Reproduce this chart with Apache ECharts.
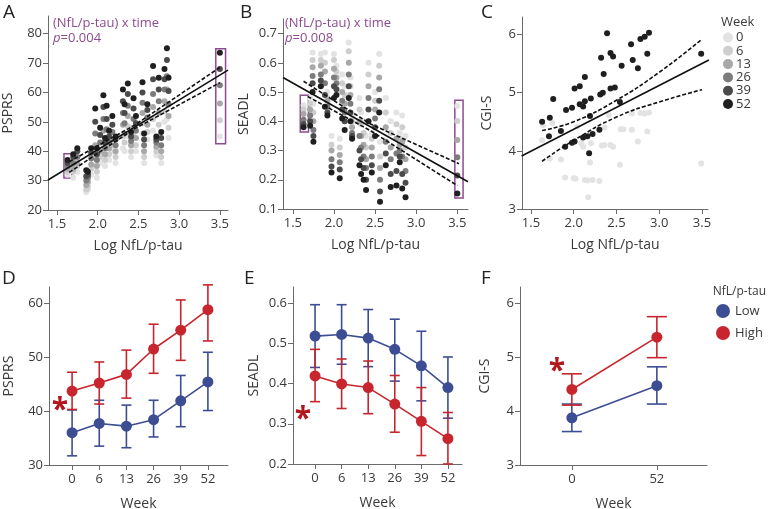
<!DOCTYPE html>
<html><head><meta charset="utf-8">
<script src="https://cdn.jsdelivr.net/npm/echarts@6/dist/echarts.min.js"></script>
<style>html,body{margin:0;padding:0;background:#fff}#c{width:768px;height:509px}</style>
</head><body><div id="c"></div>
<script>
// ---------- DATA ----------
const weeks = [0, 6, 13, 26, 39, 52];
const weekNames = ['0', '6', '13', '26', '39', '52'];

// Panel A: PSPRS vs Log NfL/p-tau
const aX = [1.63,1.70,1.75,1.86,1.88,1.92,1.97,1.99,2.03,2.07,2.09,2.11,2.14,2.18,2.22,2.31,2.33,2.37,2.41,2.44,2.47,2.55,2.57,2.61,2.68,2.72,2.75,2.78,2.82,2.85,2.87,3.50];
const aW0  = [32,31,33,26,27,32,35,31,36,40,35,38,37,40,36,41,40,45,38,42,40,46,36,44,47,38.5,45,36,50,51,44.5,45];
const aW6  = [33,33,35,27,28,34,38,33,38,43,37,41,39,42,38,45,43,48.5,40,45,42,49.5,38,46.5,51,40,49,38,53.5,56,48,50.5];
const aW13 = [34,34,36,28.5,29.5,35.5,42,35,40,47,39,44,41,44,40,49,46,52,42,48,44.5,53,40,49,55,41.5,53,40,57,61,52,56.2];
const aW26 = [35,36,38,30,31,37.5,46,37,43,51,41,47.5,43,46.5,42,53,49.5,55.5,43.5,51,47,56.5,42,51.5,59.5,43,57,42,61,65.5,56,62.4];
const aW39 = [36,38,40,31.5,32,39.5,50,39,45.5,55,43,51,45,49,44,57,53,59.5,45,54.5,49.5,60,44,54,64.5,44,61,44.5,64.5,71,60.5,68];
const aW52 = [37,39,41,33.5,33,41,54.5,41,48,59,44.5,55.5,47,52,45,61,56,63,46.5,58,52,63.5,46,56,69,45,65,46.5,68,75,65,73.5];
const aFit = [[1.39,30.2],[3.6,67.6]];
const aUpper = [[1.65,36.4],[2.45,48.8],[3.5,68.5]];
const aLower = [[1.65,32.8],[2.45,47.6],[3.5,63.3]];
const aBoxes = [[[1.586,39.1],[1.684,30.9]], [[3.45,74.9],[3.57,42.5]]];

// Panel B: SEADL vs Log NfL/p-tau
const bX = [1.63,1.71,1.74,1.75,1.84,1.89,1.92,1.97,2.00,2.03,2.07,2.10,2.13,2.18,2.20,2.22,2.31,2.33,2.36,2.39,2.42,2.46,2.50,2.55,2.56,2.63,2.69,2.76,2.80,2.83,2.87,3.50];
const bW0  = [0.455,0.48,0.635,0.46,0.63,0.635,0.50,0.35,0.63,0.59,0.34,0.56,0.52,0.67,0.55,0.42,0.48,0.43,0.40,0.35,0.60,0.36,0.50,0.63,0.33,0.48,0.40,0.43,0.36,0.42,0.35,0.452];
const bW6  = [0.44,0.46,0.61,0.43,0.61,0.60,0.48,0.32,0.61,0.57,0.31,0.53,0.49,0.64,0.52,0.40,0.44,0.39,0.36,0.31,0.56,0.34,0.47,0.59,0.28,0.43,0.36,0.39,0.34,0.38,0.31,0.401];
const bW13 = [0.425,0.44,0.585,0.40,0.59,0.57,0.47,0.30,0.58,0.55,0.285,0.50,0.46,0.60,0.49,0.38,0.40,0.35,0.32,0.27,0.52,0.31,0.44,0.55,0.24,0.38,0.31,0.34,0.32,0.33,0.27,0.336];
const bW26 = [0.405,0.42,0.555,0.37,0.56,0.53,0.45,0.27,0.55,0.53,0.26,0.47,0.43,0.56,0.46,0.36,0.35,0.31,0.28,0.24,0.48,0.28,0.41,0.51,0.20,0.33,0.27,0.29,0.30,0.28,0.23,0.277];
const bW39 = [0.39,0.40,0.53,0.35,0.54,0.49,0.43,0.245,0.52,0.51,0.235,0.44,0.40,0.52,0.43,0.35,0.30,0.27,0.24,0.20,0.44,0.25,0.38,0.47,0.16,0.29,0.22,0.23,0.28,0.22,0.19,0.215];
const bW52 = [0.38,0.385,0.50,0.33,0.52,0.45,0.42,0.225,0.48,0.49,0.205,0.41,0.37,0.48,0.40,0.34,0.25,0.22,0.20,0.165,0.40,0.225,0.35,0.43,0.125,0.25,0.175,0.18,0.26,0.17,0.14,0.153];
const bFit = [[1.38,0.55],[3.63,0.193]];
const bUpper = [[1.63,0.537],[2.45,0.39],[3.52,0.255]];
const bLower = [[1.68,0.485],[2.45,0.367],[3.5,0.18]];
const bBoxes = [[[1.59,0.489],[1.69,0.363]], [[3.47,0.472],[3.57,0.138]]];

// Panel C: CGI-S vs Log NfL/p-tau (weeks 0 and 52)
const cX0 = [1.63,1.64,1.72,1.75,1.85,1.90,2.00,2.02,2.04,2.09,2.11,2.13,2.16,2.17,2.19,2.20,2.22,2.30,2.33,2.36,2.36,2.41,2.43,2.46,2.54,2.55,2.58,2.68,2.68,2.75,2.78,2.83,2.86,2.88,3.49];
const cY0 = [4.18,4.44,3.87,4.48,3.85,3.54,3.53,3.52,4.42,4.13,4.07,3.50,3.49,3.20,3.80,4.13,3.50,3.48,4.09,4.10,4.40,4.61,4.10,4.07,3.76,4.37,4.37,4.36,4.64,4.16,4.65,4.64,4.33,4.66,3.78];
const cX52 = [1.63,1.72,1.71,1.76,1.85,1.90,1.91,1.98,1.98,2.01,2.01,2.07,2.07,2.11,2.13,2.13,2.11,2.16,2.18,2.19,2.20,2.22,2.30,2.31,2.32,2.35,2.34,2.39,2.43,2.43,2.46,2.48,2.54,2.56,2.67,2.69,2.75,2.78,2.83,2.86,2.88,3.49];
const cY52 = [4.50,4.57,4.25,4.89,4.34,4.07,4.70,4.74,4.14,4.16,5.07,5.11,4.80,4.76,4.85,5.27,4.23,4.25,3.96,4.60,4.90,4.29,4.36,4.97,5.60,5.32,5.00,6.02,5.68,5.07,5.62,5.09,4.84,5.46,5.83,5.56,5.42,5.92,5.96,5.67,6.03,5.67];
const cFit = [[1.39,3.91],[3.58,5.56]];
const cUpper = [[1.63,4.35],[2.0,4.5],[2.5,4.87],[3.0,5.35],[3.5,5.92]];
const cLower = [[1.63,3.82],[2.0,4.18],[2.5,4.58],[3.0,4.84],[3.5,5.05]];

// Panel D: PSPRS by week (Low / High NfL/p-tau)
const dLowMean  = [36.0,37.7,37.2,38.4,41.9,45.4];
const dLowLo    = [31.7,33.5,33.2,35.2,37.1,40.1];
const dLowHi    = [40.2,42.0,41.1,42.0,46.6,50.9];
const dHighMean = [43.7,45.2,46.8,51.5,55.0,58.8];
const dHighLo   = [40.3,41.3,42.4,47.0,49.4,53.0];
const dHighHi   = [47.2,49.1,51.3,56.1,60.6,63.4];
// Panel E: SEADL by week
const eLowMean  = [0.518,0.522,0.513,0.485,0.444,0.390];
const eLowLo    = [0.440,0.448,0.442,0.406,0.357,0.314];
const eLowHi    = [0.596,0.596,0.584,0.560,0.530,0.466];
const eHighMean = [0.419,0.399,0.390,0.349,0.306,0.263];
const eHighLo   = [0.355,0.338,0.325,0.279,0.221,0.200];
const eHighHi   = [0.485,0.461,0.456,0.420,0.390,0.328];
// Panel F: CGI-S at week 0 and 52
const fWeeks = [0, 52];
const fLowMean  = [3.875,4.47];
const fLowLo    = [3.62,4.13];
const fLowHi    = [4.13,4.82];
const fHighMean = [4.40,5.37];
const fHighLo   = [4.11,4.99];
const fHighHi   = [4.69,5.75];

// ---------- STYLE ----------
const FONT = 'Open Sans';
const weekColors = ['#e3e3e3','#cecece','#a8a8a8','#7c7c7c','#4b4b4b','#1f1f1f'];
const LOW = '#3d4d93', HIGH = '#c7262e', PURPLE = '#8d4b90', AX = '#6a6a6a', TXT = '#3a3a3a';

function xyAxis(gi, min, max, ticks, fmt, name, gap, vertical) {
  return {
    type: 'value', gridIndex: gi, min, max,
    name, nameLocation: 'middle', nameGap: gap,
    nameTextStyle: { fontFamily: FONT, fontSize: 14, color: TXT },
    axisLine: { show: true, onZero: false, lineStyle: { color: AX, width: 1 } },
    axisTick: { show: true, length: 5, lineStyle: { color: AX }, customValues: ticks },
    axisLabel: { fontFamily: FONT, fontSize: 13, color: TXT, margin: vertical ? 6 : 8, customValues: ticks, formatter: fmt },
    splitLine: { show: false }
  };
}
const f1 = v => v.toFixed(1);
const f0 = v => String(Math.round(v));

const grids = [
  { left: 48, top: 16, width: 180, height: 194 },
  { left: 283, top: 19, width: 185, height: 190 },
  { left: 522, top: 17, width: 186, height: 192 },
  { left: 49, top: 287, width: 179, height: 178 },
  { left: 293, top: 287, width: 169, height: 177 },
  { left: 520, top: 287, width: 187, height: 178 }
].map(g => Object.assign({ outerBoundsMode: 'none', containLabel: false }, g));

const xTicksLog = [1.5, 2.0, 2.5, 3.0, 3.5];
const xAxes = [
  xyAxis(0, 1.39, 3.6, xTicksLog, f1, 'Log NfL/p-tau', 29),
  xyAxis(1, 1.38, 3.63, xTicksLog, f1, 'Log NfL/p-tau', 29),
  xyAxis(2, 1.395, 3.57, xTicksLog, f1, 'Log NfL/p-tau', 29),
  xyAxis(3, -0.85, 5.74, [0,1,2,3,4,5], v => String(weeks[Math.round(v)]), 'Week', 32),
  xyAxis(4, -0.83, 5.53, [0,1,2,3,4,5], v => String(weeks[Math.round(v)]), 'Week', 32),
  xyAxis(5, -0.61, 1.59, [0,1], v => String(fWeeks[Math.round(v)]), 'Week', 32)
];
const yAxes = [
  xyAxis(0, 20, 86, [20,30,40,50,60,70,80], f0, 'PSPRS', 33, true),
  xyAxis(1, 0.1, 0.75, [0.1,0.2,0.3,0.4,0.5,0.6,0.7], f1, 'SEADL', 32, true),
  xyAxis(2, 3, 6.3, [3,4,5,6], f0, 'CGI-S', 28, true),
  xyAxis(3, 30, 63, [30,40,50,60], f0, 'PSPRS', 33, true),
  xyAxis(4, 0.2, 0.64, [0.2,0.3,0.4,0.5,0.6], f1, 'SEADL', 32, true),
  xyAxis(5, 3, 6.3, [3,4,5,6], f0, 'CGI-S', 28, true)
];

const series = [];
function scatter(name, gi, xs, ys, color) {
  series.push({
    type: 'scatter', name, xAxisIndex: gi, yAxisIndex: gi,
    data: xs.map((x, i) => [x, ys[i]]), symbolSize: 6,
    itemStyle: { color, opacity: 1 }, silent: true
  });
}
const aWeeks = [aW0, aW6, aW13, aW26, aW39, aW52];
const bWeeks = [bW0, bW6, bW13, bW26, bW39, bW52];
aWeeks.forEach((ys, k) => scatter(weekNames[k], 0, aX, ys, weekColors[k]));
bWeeks.forEach((ys, k) => scatter(weekNames[k], 1, bX, ys, weekColors[k]));
scatter('0', 2, cX0, cY0, weekColors[0]);
scatter('52', 2, cX52, cY52, weekColors[5]);

function fitLine(gi, data, dashed, smooth) {
  series.push({
    type: 'line', xAxisIndex: gi, yAxisIndex: gi, data, symbol: 'none', smooth: !!smooth, silent: true,
    lineStyle: { color: '#111', width: 1.6, type: dashed ? [4, 2] : 'solid' }, z: 5
  });
}
fitLine(0, aFit); fitLine(0, aUpper, true); fitLine(0, aLower, true);
fitLine(1, bFit); fitLine(1, bUpper, true); fitLine(1, bLower, true);
fitLine(2, cFit); fitLine(2, cUpper, true, true); fitLine(2, cLower, true, true);

// purple boxes
function boxes(gi, list) {
  series.push({
    type: 'line', xAxisIndex: gi, yAxisIndex: gi, data: [], silent: true,
    markArea: { silent: true, itemStyle: { color: 'rgba(0,0,0,0)', borderColor: PURPLE, borderWidth: 1.5 },
      data: list.map(b => [{ coord: b[0] }, { coord: b[1] }]) }
  });
}
boxes(0, aBoxes); boxes(1, bBoxes);

// group means with error bars
function group(name, gi, mean, lo, hi, color, cap) {
  series.push({
    type: 'line', name, xAxisIndex: gi, yAxisIndex: gi, silent: true,
    data: mean.map((m, i) => [i, m]), symbol: 'circle', symbolSize: 11,
    itemStyle: { color }, lineStyle: { color, width: 1.6 }, z: 4
  });
  series.push({
    type: 'custom', name, xAxisIndex: gi, yAxisIndex: gi, silent: true,
    itemStyle: { color },
    data: mean.map((m, i) => [i, lo[i], hi[i]]),
    renderItem: (params, api) => {
      const x = api.value(0);
      const p1 = api.coord([x, api.value(1)]);
      const p2 = api.coord([x, api.value(2)]);
      const st = { stroke: color, lineWidth: 1.6 };
      return { type: 'group', children: [
        { type: 'line', shape: { x1: p1[0], y1: p1[1], x2: p2[0], y2: p2[1] }, style: st },
        { type: 'line', shape: { x1: p1[0]-cap, y1: p1[1], x2: p1[0]+cap, y2: p1[1] }, style: st },
        { type: 'line', shape: { x1: p2[0]-cap, y1: p2[1], x2: p2[0]+cap, y2: p2[1] }, style: st }
      ]};
    },
    z: 3
  });
}
group('Low', 3, dLowMean, dLowLo, dLowHi, LOW, 5);
group('High', 3, dHighMean, dHighLo, dHighHi, HIGH, 5);
group('Low', 4, eLowMean, eLowLo, eLowHi, LOW, 5);
group('High', 4, eHighMean, eHighLo, eHighHi, HIGH, 5);
group('Low', 5, fLowMean, fLowLo, fLowHi, LOW, 10);
group('High', 5, fHighMean, fHighLo, fHighHi, HIGH, 10);

function txt(x, y, text, opt) {
  return Object.assign({ type: 'text', x, y, style: Object.assign({ text, fontFamily: FONT, fontSize: 13, fill: TXT }, opt || {}) });
}
const graphics = [
  txt(3, 3, 'A', { fontSize: 19, fill: '#222' }),
  txt(240, 3, 'B', { fontSize: 19, fill: '#222' }),
  txt(481, 3, 'C', { fontSize: 19, fill: '#222' }),
  txt(2, 269, 'D', { fontSize: 19, fill: '#222' }),
  txt(244, 269, 'E', { fontSize: 19, fill: '#222' }),
  txt(481, 269, 'F', { fontSize: 19, fill: '#222' }),
  txt(53, 17, '(NfL/p-tau) x time', { fill: PURPLE }),
  txt(53, 32, '{i|p}=0.004', { fill: PURPLE, rich: { i: { fontStyle: 'italic', fontFamily: FONT, fontSize: 13, fill: PURPLE } } }),
  txt(285, 17, '(NfL/p-tau) x time', { fill: PURPLE }),
  txt(285, 32, '{i|p}=0.008', { fill: PURPLE, rich: { i: { fontStyle: 'italic', fontFamily: FONT, fontSize: 13, fill: PURPLE } } }),
  txt(721, 16, 'Week', { fontSize: 13 }),
  txt(766, 286, 'NfL/p-tau', { fontSize: 12, align: 'right' }),
  txt(60, 410, '*', { fontSize: 30, fontWeight: 'bold', fill: '#b3161e', align: 'center', verticalAlign: 'middle' }),
  txt(303, 419, '*', { fontSize: 30, fontWeight: 'bold', fill: '#b3161e', align: 'center', verticalAlign: 'middle' }),
  txt(557, 371, '*', { fontSize: 30, fontWeight: 'bold', fill: '#b3161e', align: 'center', verticalAlign: 'middle' })
];

const chart = echarts.init(document.getElementById('c'), null, { renderer: 'canvas' });
chart.setOption({
  animation: false,
  backgroundColor: '#fff',
  grid: grids,
  xAxis: xAxes,
  yAxis: yAxes,
  legend: [
    { data: weekNames, orient: 'vertical', left: 723, top: 31, padding: 0, icon: 'circle', itemWidth: 10, itemHeight: 10, itemGap: 0.3,
      selectedMode: false, textStyle: { fontFamily: FONT, fontSize: 13, lineHeight: 13, color: TXT, padding: [0,0,0,-2] } },
    { data: ['Low', 'High'], orient: 'vertical', left: 716, top: 304, padding: 0, icon: 'circle', itemWidth: 14, itemHeight: 14, itemGap: 8,
      selectedMode: false, textStyle: { fontFamily: FONT, fontSize: 13, color: TXT } }
  ],
  graphic: graphics,
  series
});
</script></body></html>
